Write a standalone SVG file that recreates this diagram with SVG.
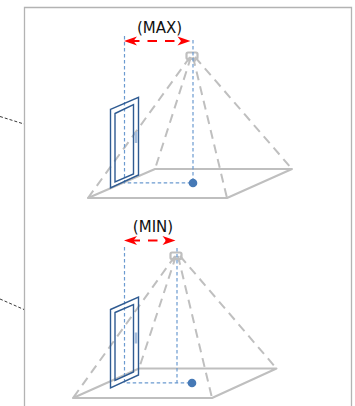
<svg xmlns="http://www.w3.org/2000/svg" width="355" height="406" viewBox="0 0 355 406">
<style>
.frame{fill:none;stroke:#b3b3b3;stroke-width:1.3}
.floor{fill:none;stroke:#bfbfbf;stroke-width:2;stroke-linejoin:round}
.ray{fill:none;stroke:#bfbfbf;stroke-width:2;stroke-dasharray:9 6}
.cam{fill:none;stroke:#bfbfbf;stroke-width:2.200}
.door{fill:none;stroke:#2f5b92;stroke-width:1.400}
.handle{fill:#a9c0dd}
.guide{fill:none;stroke:#6b9ad0;stroke-width:1.200;stroke-dasharray:3.500 2.500}
.dot{fill:#4679b6}
.span{fill:none;stroke:#ff0000;stroke-width:2;stroke-dasharray:9.500 8}
.head{fill:#ff0000}
.lead{fill:none;stroke:#222;stroke-width:.9;stroke-dasharray:3 2}
text{font-family:"DejaVu Sans",sans-serif;font-size:15px;fill:#111;text-anchor:middle}
</style>
<g id="connectors">
<path class="frame" d="M24.500 406V7.500H351.500V406"/>
<path class="lead" d="M0 116.500L24 124"/>
<path class="lead" d="M0 299L24 309.500"/>
</g>
<g id="max-scene">
<path class="floor" d="M88 198H227L292 169H155Z"/>
<path class="ray" d="M190 57L88 198M191 57L155 169M193 57L227 198M195 57L292 169"/>
<rect class="cam" x="186.500" y="52.500" width="11" height="6.500" rx="1.500"/>
<path class="cam" d="M190 59l-1.500 2.500M194 59l1.500 2.500"/>
<path class="guide" d="M124.500 36V182.800H193M193 40V183"/>
<rect class="handle" x="134.700" y="132" width="2.600" height="11"/>
<path class="door" d="M110.500 109.300L138.500 97.300V175L110.500 188Z"/>
<path class="door" d="M115 113.500L133.500 104.500V174L115 182Z"/>
<circle class="dot" cx="193" cy="183" r="4.300"/>
<path class="span" d="M130 41H184"/>
<path class="head" d="M124 41L137 36.500L133.500 41L137 45.500Z"/>
<path class="head" d="M190.500 41L177.500 36.500L181 41L177.500 45.500Z"/>
<text x="159.500" y="32.500">(MAX)</text>
</g>
<g id="min-scene">
<path class="floor" d="M73 398H212L276.500 368.500H139Z"/>
<path class="ray" d="M175 256L73 398M176 256L139 368.500M178 256L212 398M180 256L276.500 368.500"/>
<rect class="cam" x="170.500" y="252.500" width="11" height="6.500" rx="1.500"/>
<path class="cam" d="M174 259l-1.500 2.500M178 259l1.500 2.500"/>
<path class="guide" d="M124.500 247V382.800H192M177 248V382.800"/>
<rect class="handle" x="134.700" y="332.500" width="2.600" height="11"/>
<path class="door" d="M110.500 309.500L138.500 297V375L110.500 388Z"/>
<path class="door" d="M115 312.500L133.500 304.500V372L115 380.500Z"/>
<circle class="dot" cx="192" cy="383" r="4.300"/>
<path class="span" d="M130.500 240.500H169"/>
<path class="head" d="M124 240.500L137 236L133.500 240.500L137 245Z"/>
<path class="head" d="M175.500 240.500L162.500 236L166 240.500L162.500 245Z"/>
<text x="153" y="231.500">(MIN)</text>
</g>
</svg>
